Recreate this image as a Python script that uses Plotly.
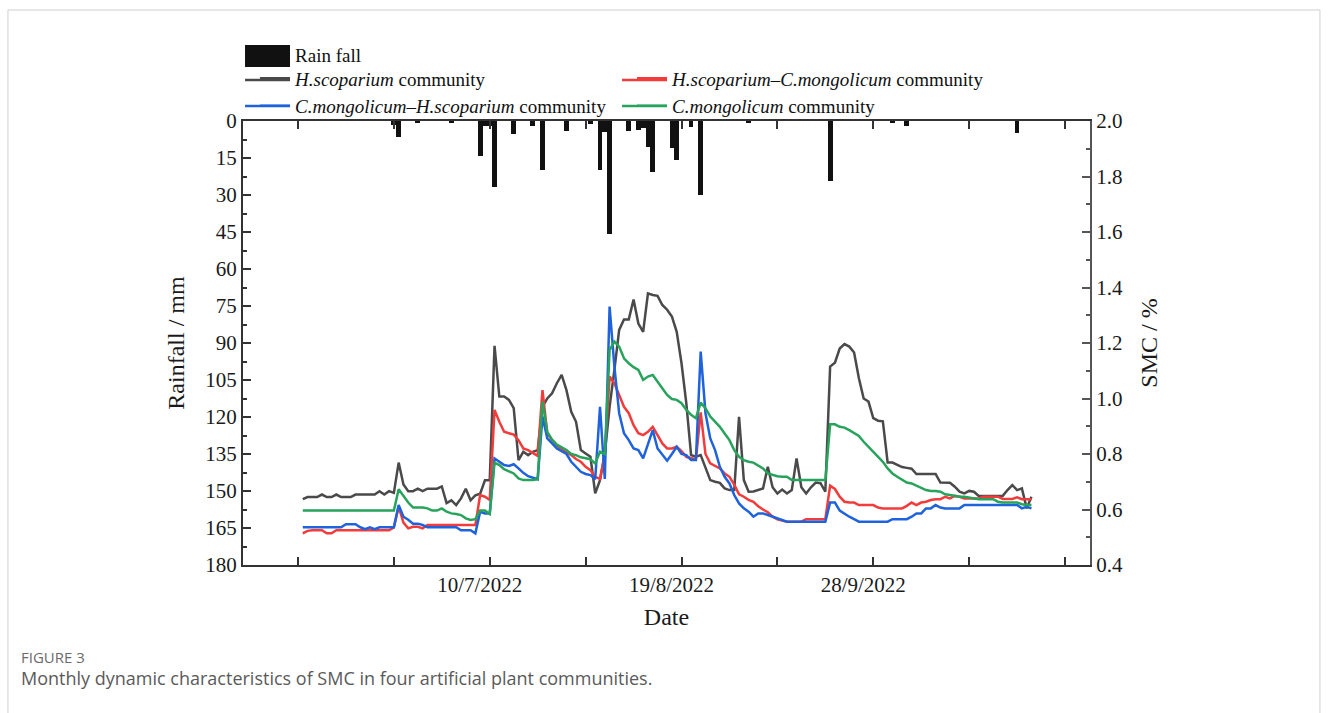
import plotly.graph_objects as go
import pandas as pd

# ---------------- data ----------------
dates = pd.date_range("2022-06-01", "2022-10-31", freq="D")

rain_dates = ["2022-06-20", "2022-06-21", "2022-06-25", "2022-07-02", "2022-07-08",
              "2022-07-09", "2022-07-10", "2022-07-11", "2022-07-15", "2022-07-19",
              "2022-07-21", "2022-07-26", "2022-07-31", "2022-08-02", "2022-08-03",
              "2022-08-04", "2022-08-08", "2022-08-10", "2022-08-11", "2022-08-12",
              "2022-08-13", "2022-08-17", "2022-08-18", "2022-08-21", "2022-08-23",
              "2022-09-02", "2022-09-19", "2022-10-02", "2022-10-05", "2022-10-28"]
rain_mm = [1.5, 6.5, 1.0, 1.0, 14.2,
           2.0, 2.0, 26.6, 5.3, 2.2,
           20.0, 4.0, 1.3, 20.0, 4.5,
           46.0, 4.0, 3.5, 3.0, 10.4,
           20.5, 11.0, 16.0, 2.5, 30.0,
           0.8, 24.3, 1.0, 2.0, 5.0]

smc_hs = [0.637, 0.645, 0.645, 0.645, 0.654, 0.645, 0.645, 0.654, 0.645, 0.645,
          0.645, 0.654, 0.654, 0.654, 0.654, 0.654, 0.666, 0.654, 0.666, 0.660,
          0.769, 0.690, 0.666, 0.666, 0.675, 0.666, 0.675, 0.675, 0.675, 0.683,
          0.623, 0.633, 0.616, 0.640, 0.675, 0.633, 0.651, 0.657, 0.705, 0.705,
          1.190, 1.007, 1.007, 0.995, 0.965, 0.778, 0.808, 0.796, 0.808, 0.814,
          0.970, 1.000, 1.019, 1.055, 1.085, 1.030, 0.952, 0.916, 0.814, 0.802,
          0.790, 0.658, 0.706, 0.800, 0.970, 1.103, 1.247, 1.285, 1.285, 1.357,
          1.270, 1.240, 1.379, 1.373, 1.370, 1.337, 1.320, 1.295, 1.240, 1.127,
          0.983, 0.796, 0.790, 0.796, 0.754, 0.706, 0.700, 0.696, 0.676, 0.670,
          0.670, 0.934, 0.706, 0.664, 0.665, 0.670, 0.676, 0.754, 0.680, 0.658,
          0.672, 0.658, 0.670, 0.784, 0.680, 0.658, 0.680, 0.697, 0.695, 0.664,
          1.115, 1.129, 1.180, 1.196, 1.187, 1.166, 1.073, 1.000, 0.989, 0.929,
          0.920, 0.918, 0.769, 0.769, 0.760, 0.753, 0.750, 0.747, 0.728, 0.728,
          0.728, 0.728, 0.728, 0.697, 0.697, 0.696, 0.682, 0.664, 0.658, 0.667,
          0.664, 0.649, 0.649, 0.649, 0.649, 0.649, 0.649, 0.670, 0.688, 0.670,
          0.676, 0.604, 0.646]

smc_hs_cm = [0.514, 0.523, 0.525, 0.525, 0.525, 0.514, 0.514, 0.525, 0.525, 0.525,
             0.525, 0.525, 0.525, 0.525, 0.525, 0.525, 0.525, 0.525, 0.525, 0.535,
             0.610, 0.553, 0.532, 0.538, 0.538, 0.532, 0.544, 0.544, 0.544, 0.544,
             0.544, 0.544, 0.544, 0.544, 0.544, 0.544, 0.544, 0.652, 0.646, 0.634,
             0.959, 0.916, 0.880, 0.875, 0.870, 0.850, 0.820, 0.814, 0.805, 0.793,
             1.030, 0.875, 0.850, 0.830, 0.818, 0.808, 0.796, 0.782, 0.772, 0.754,
             0.742, 0.718, 0.710, 0.800, 1.079, 1.055, 1.013, 0.970, 0.947, 0.904,
             0.875, 0.868, 0.880, 0.898, 0.868, 0.838, 0.820, 0.820, 0.826, 0.810,
             0.790, 0.784, 0.780, 0.950, 0.800, 0.766, 0.758, 0.748, 0.730, 0.718,
             0.690, 0.655, 0.646, 0.635, 0.628, 0.612, 0.600, 0.590, 0.574, 0.565,
             0.560, 0.556, 0.556, 0.556, 0.556, 0.565, 0.565, 0.565, 0.565, 0.565,
             0.686, 0.674, 0.646, 0.628, 0.625, 0.625, 0.616, 0.616, 0.616, 0.616,
             0.607, 0.604, 0.604, 0.604, 0.604, 0.604, 0.613, 0.625, 0.616, 0.625,
             0.628, 0.634, 0.637, 0.637, 0.646, 0.640, 0.649, 0.646, 0.640, 0.640,
             0.640, 0.640, 0.646, 0.646, 0.646, 0.646, 0.638, 0.638, 0.638, 0.644,
             0.637, 0.637, 0.637]

smc_cm_hs = [0.536, 0.536, 0.536, 0.536, 0.536, 0.536, 0.536, 0.536, 0.536, 0.547,
             0.547, 0.547, 0.536, 0.529, 0.536, 0.529, 0.536, 0.536, 0.536, 0.536,
             0.616, 0.574, 0.563, 0.549, 0.549, 0.544, 0.536, 0.536, 0.536, 0.536,
             0.536, 0.536, 0.536, 0.525, 0.525, 0.525, 0.514, 0.592, 0.586, 0.586,
             0.784, 0.772, 0.760, 0.757, 0.763, 0.748, 0.732, 0.720, 0.714, 0.709,
             0.935, 0.856, 0.838, 0.820, 0.810, 0.800, 0.772, 0.755, 0.736, 0.728,
             0.724, 0.709, 0.970, 0.710, 1.331, 1.115, 0.947, 0.875, 0.850, 0.820,
             0.814, 0.784, 0.838, 0.886, 0.820, 0.800, 0.776, 0.800, 0.826, 0.800,
             0.796, 0.778, 0.778, 1.169, 0.947, 0.856, 0.814, 0.754, 0.718, 0.694,
             0.652, 0.622, 0.604, 0.592, 0.574, 0.586, 0.586, 0.580, 0.574, 0.568,
             0.562, 0.556, 0.556, 0.556, 0.556, 0.556, 0.556, 0.556, 0.556, 0.556,
             0.625, 0.625, 0.596, 0.584, 0.574, 0.565, 0.556, 0.556, 0.556, 0.556,
             0.556, 0.556, 0.556, 0.565, 0.565, 0.565, 0.565, 0.574, 0.586, 0.586,
             0.604, 0.604, 0.616, 0.607, 0.604, 0.604, 0.604, 0.604, 0.616, 0.616,
             0.616, 0.616, 0.616, 0.616, 0.616, 0.616, 0.616, 0.616, 0.616, 0.616,
             0.604, 0.610, 0.604]

smc_cm = [0.596, 0.596, 0.596, 0.596, 0.596, 0.596, 0.596, 0.596, 0.596, 0.596,
          0.596, 0.596, 0.596, 0.596, 0.596, 0.596, 0.596, 0.596, 0.596, 0.596,
          0.673, 0.650, 0.625, 0.607, 0.607, 0.607, 0.604, 0.596, 0.596, 0.604,
          0.592, 0.586, 0.584, 0.580, 0.568, 0.562, 0.565, 0.596, 0.596, 0.584,
          0.769, 0.760, 0.745, 0.736, 0.730, 0.712, 0.706, 0.706, 0.706, 0.709,
          0.989, 0.880, 0.852, 0.834, 0.824, 0.814, 0.800, 0.796, 0.788, 0.785,
          0.781, 0.766, 0.808, 0.800, 1.175, 1.205, 1.187, 1.145, 1.127, 1.113,
          1.103, 1.067, 1.079, 1.085, 1.061, 1.037, 1.013, 0.998, 0.995, 0.983,
          0.959, 0.941, 0.929, 0.985, 0.965, 0.935, 0.916, 0.898, 0.874, 0.850,
          0.814, 0.790, 0.778, 0.772, 0.769, 0.760, 0.748, 0.730, 0.724, 0.720,
          0.718, 0.718, 0.706, 0.706, 0.706, 0.706, 0.706, 0.706, 0.706, 0.706,
          0.907, 0.907, 0.898, 0.895, 0.886, 0.877, 0.865, 0.844, 0.826, 0.808,
          0.790, 0.772, 0.748, 0.730, 0.718, 0.706, 0.697, 0.694, 0.686, 0.676,
          0.670, 0.667, 0.667, 0.664, 0.655, 0.652, 0.649, 0.646, 0.646, 0.643,
          0.640, 0.637, 0.637, 0.637, 0.637, 0.628, 0.625, 0.625, 0.625, 0.625,
          0.619, 0.616, 0.616]

series_names = ["<i>H.scoparium</i> community",
                "<i>H.scoparium–C.mongolicum</i> community",
                "<i>C.mongolicum–H.scoparium</i> community",
                "<i>C.mongolicum</i> community"]
series_colors = ["#4a4a4a", "#f23c3c", "#1f63dc", "#27a35b"]

x_major_vals = ["2022-05-31", "2022-07-10", "2022-08-19", "2022-09-28", "2022-11-07"]
x_major_text = ["", "10/7/2022", "19/8/2022", "28/9/2022", ""]
x_minor_vals = ["2022-06-20", "2022-07-30", "2022-09-08", "2022-10-18"]
rain_ticks = [0, 15, 30, 45, 60, 75, 90, 105, 120, 135, 150, 165, 180]
smc_ticks = [0.4, 0.6, 0.8, 1.0, 1.2, 1.4, 1.6, 1.8, 2.0]
smc_tick_text = ["0.4", "0.6", "0.8", "1.0", "1.2", "1.4", "1.6", "1.8", "2.0"]

# ---------------- figure ----------------
AX = "#333333"
SERIF = "Liberation Serif"
fig = go.Figure()

fig.add_trace(go.Bar(
    x=rain_dates, y=rain_mm, name="Rain fall",
    marker=dict(color="#111111", line=dict(width=0)),
    width=86400000 * 1.0, yaxis="y", legend="legend", showlegend=True,
))

for name, vals, col in zip(series_names, [smc_hs, smc_hs_cm, smc_cm_hs, smc_cm], series_colors):
    fig.add_trace(go.Scatter(
        x=dates, y=vals, mode="lines", name=name,
        line=dict(color=col, width=2.5), yaxis="y2", legend="legend2", showlegend=True,
    ))

# legend swatches drawn long/large as in the original figure
fig.add_shape(type="rect", xref="paper", yref="paper",
              x0=0.0024, x1=0.0555, y0=1.1216, y1=1.1712,
              line=dict(width=0), fillcolor="#111111", layer="above")
swatch_pos = [(0.0024, 1.0923), (0.4475, 1.0923), (0.0024, 1.0338), (0.4475, 1.0338)]
for (sx, sy), col in zip(swatch_pos, series_colors):
    fig.add_shape(type="line", xref="paper", yref="paper",
                  x0=sx, x1=sx + 0.0531, y0=sy, y1=sy,
                  line=dict(color=col, width=2.5), layer="above")

# page frame and caption (journal figure panel)
fig.add_shape(type="rect", xref="paper", yref="paper",
              x0=-0.2775, x1=1.2715, y0=-0.40, y1=1.25,
              line=dict(color="#cfcfcf", width=1), layer="below")
fig.add_annotation(text="FIGURE 3", xref="paper", yref="paper",
                   x=-0.2645, y=-0.207, xanchor="left", yanchor="middle",
                   showarrow=False, font=dict(family="Open Sans", size=15, color="#6b6b6b"))
fig.add_annotation(text="Monthly dynamic characteristics of SMC in four artificial plant communities.",
                   xref="paper", yref="paper",
                   x=-0.2645, y=-0.2545, xanchor="left", yanchor="middle",
                   showarrow=False, font=dict(family="Open Sans", size=18, color="#5a5a5a"))

fig.update_layout(
    width=1328, height=713,
    margin=dict(l=243, r=238, t=121, b=148),
    paper_bgcolor="white", plot_bgcolor="white",
    font=dict(family=SERIF, size=21, color="#1a1a1a"),
    showlegend=True,
    bargap=0,
    xaxis=dict(
        type="date",
        range=["2022-05-19 12:45", "2022-11-12 05:00"],
        tickmode="array", tickvals=x_major_vals, ticktext=x_major_text,
        ticks="inside", ticklen=8, tickwidth=1.5, tickcolor=AX,
        minor=dict(tickmode="array", tickvals=x_minor_vals, ticks="inside",
                   ticklen=4, tickwidth=1.5, tickcolor=AX, showgrid=False),
        showline=True, linewidth=2, linecolor=AX, mirror="allticks",
        showgrid=False, zeroline=False,
        ticklabelshift=-10,
        title=dict(text="Date", font=dict(family=SERIF, size=24), standoff=12),
    ),
    yaxis=dict(
        range=[180, 0], tickmode="array", tickvals=rain_ticks,
        ticks="inside", ticklen=8, tickwidth=1.5, tickcolor=AX,
        minor=dict(dtick=7.5, tick0=0, ticks="inside", ticklen=4,
                   tickwidth=1.5, tickcolor=AX, showgrid=False),
        showline=True, linewidth=2, linecolor=AX,
        showgrid=False, zeroline=False,
        title=dict(text="Rainfall / mm", font=dict(family=SERIF, size=24), standoff=14),
    ),
    yaxis2=dict(
        overlaying="y", side="right", range=[0.4, 2.0],
        tickmode="array", tickvals=smc_ticks, ticktext=smc_tick_text,
        ticks="inside", ticklen=8, tickwidth=1.5, tickcolor="#555555",
        minor=dict(dtick=0.1, tick0=0.4, ticks="inside", ticklen=4,
                   tickwidth=1.5, tickcolor="#555555", showgrid=False),
        showline=True, linewidth=2, linecolor="#555555",
        showgrid=False, zeroline=False,
        title=dict(text="SMC / %", font=dict(family=SERIF, size=24), standoff=18),
    ),
    legend=dict(x=0.0142, y=1.193, xanchor="left", yanchor="top",
                orientation="h", font=dict(family=SERIF, size=19, color="#111"),
                bgcolor="rgba(0,0,0,0)"),
    legend2=dict(x=0.0142, y=1.139, xanchor="left", yanchor="top",
                 orientation="h", entrywidth=332, entrywidthmode="pixels",
                 font=dict(family=SERIF, size=19, color="#111"),
                 bgcolor="rgba(0,0,0,0)", traceorder="normal"),
)

fig.write_html("out.html")
